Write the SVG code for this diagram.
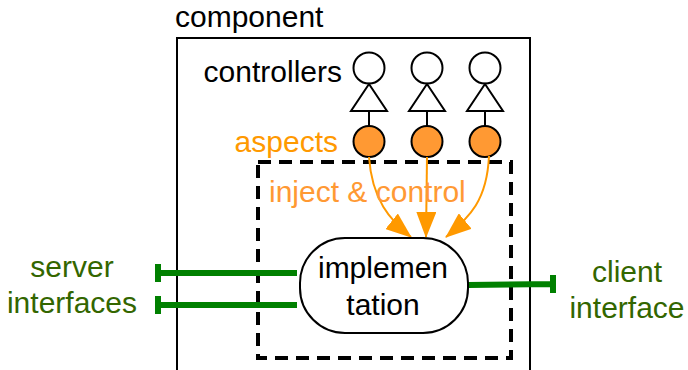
<svg xmlns="http://www.w3.org/2000/svg" width="688" height="370" viewBox="0 0 688 370">
<style>
text{font-family:"Liberation Sans",Arial,sans-serif;font-size:30px}
.ctl{fill:#fff;stroke:#000;stroke-width:2}
.asp{fill:#FF9933;stroke:#000;stroke-width:2}
.arr{fill:none;stroke:#FF9900;stroke-width:2}
.itf{stroke:#008000;stroke-width:6;fill:none}
.gl{fill:#336600;text-anchor:middle}
</style>
<defs>
<marker id="ah" viewBox="0 0 26 20" markerWidth="26" markerHeight="20" refX="25" refY="10" orient="auto" markerUnits="userSpaceOnUse">
<path d="M0,0 L26,10 L0,20 Z" fill="#FF9900"/>
</marker>
</defs>
<g id="component">
<rect x="177" y="38" width="353" height="340" fill="none" stroke="#000" stroke-width="2"/>
<text x="175" y="27">component</text>
</g>
<g id="membrane">
<rect x="258" y="162" width="253" height="196" fill="none" stroke="#000" stroke-width="4" stroke-dasharray="13,8"/>
</g>
<g id="controllers">
<text x="342" y="82" text-anchor="end">controllers</text>
<g id="ctl1"><circle class="ctl" cx="369" cy="68" r="15.5"/><path class="ctl" d="M369,84 L351,111 L387,111 Z"/><line x1="369" y1="111" x2="369" y2="126" stroke="#000" stroke-width="2"/></g>
<g id="ctl2"><circle class="ctl" cx="427" cy="68" r="15.5"/><path class="ctl" d="M427,84 L409,111 L445,111 Z"/><line x1="427" y1="111" x2="427" y2="126" stroke="#000" stroke-width="2"/></g>
<g id="ctl3"><circle class="ctl" cx="485" cy="68" r="15.5"/><path class="ctl" d="M485,84 L467,111 L503,111 Z"/><line x1="485" y1="111" x2="485" y2="126" stroke="#000" stroke-width="2"/></g>
</g>
<g id="aspects">
<text x="338" y="152" fill="#FF9900" text-anchor="end">aspects</text>
<circle id="asp1" class="asp" cx="369" cy="141.5" r="15.5"/>
<circle id="asp2" class="asp" cx="427" cy="141.5" r="15.5"/>
<circle id="asp3" class="asp" cx="485" cy="141.5" r="15.5"/>
</g>
<g id="connectors">
<path class="arr" d="M369,157 C372,200 390,220 411,237" marker-end="url(#ah)"/>
<path class="arr" d="M427,157 L426,237" marker-end="url(#ah)"/>
<path class="arr" d="M489,156 C487,200 470,217 446,237" marker-end="url(#ah)"/>
<path class="itf" d="M297,273 L158,273 M158,264 L158,282"/>
<path class="itf" d="M297,305 L158,305 M158,296 L158,314"/>
<path class="itf" d="M468,285 L553,284 M553,275 L553,293"/>
</g>
<text x="269" y="202" fill="#FF9933">inject &amp; control</text>
<g id="implementation">
<rect x="300" y="238" width="168" height="95" rx="45" ry="45" fill="#fff" stroke="#000" stroke-width="2"/>
<text x="383" y="278" text-anchor="middle">implemen</text>
<text x="383" y="315" text-anchor="middle">tation</text>
</g>
<g id="server">
<text class="gl" x="72" y="277">server</text>
<text class="gl" x="72" y="313">interfaces</text>
</g>
<g id="client">
<text class="gl" x="627" y="282">client</text>
<text class="gl" x="627" y="318">interface</text>
</g>
</svg>
